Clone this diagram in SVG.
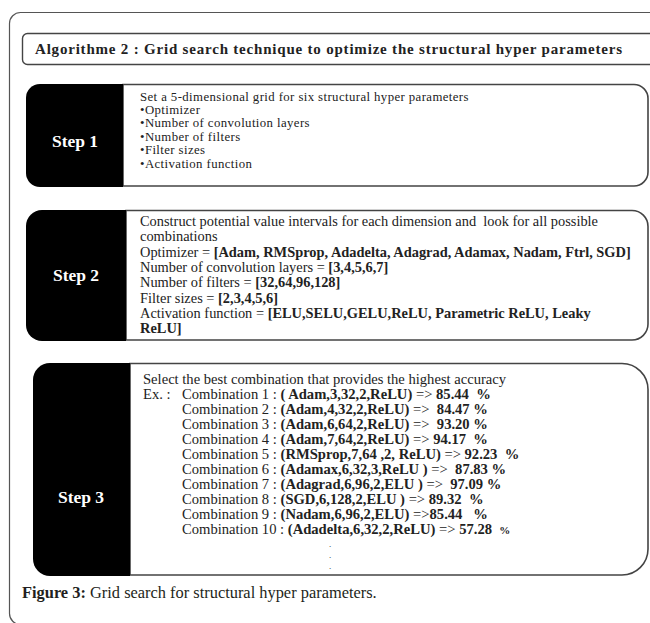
<svg xmlns="http://www.w3.org/2000/svg" width="650" height="623" viewBox="0 0 650 623">
<style>
.frame{fill:none;stroke:#555;stroke-width:1.2}
.box{fill:#fff;stroke:#444;stroke-width:1.6}
.blk{fill:#000}
.t{font-family:"Liberation Serif","Times New Roman",serif;fill:#222}
.b{font-weight:bold}
.lab{font-family:"Liberation Serif","Times New Roman",serif;font-weight:bold;fill:#fff;font-size:17.5px;text-anchor:middle}
.s1{font-size:12.8px;letter-spacing:0.4px}
.s2{font-size:14.4px}
.s3{font-size:14.6px}
.dot{font-size:9px}
.cap{font-family:"Liberation Serif","Times New Roman",serif;fill:#231f20;font-size:16.4px}
</style>
<rect class="frame" x="9.5" y="12.5" width="700" height="612" rx="11"/>
<g id="title">
<rect x="22.5" y="33.5" width="700" height="31" rx="5" fill="#fff" stroke="#444" stroke-width="1.4"/>
<text class="t b" x="35" y="53.5" font-size="15" textLength="587" lengthAdjust="spacing">Algorithme 2 : Grid search technique to optimize the structural hyper parameters</text>
</g>
<g id="step1">
<path class="box" d="M123,84.5 H634 A14,14 0 0 1 648,98.5 V172 A14,14 0 0 1 634,186 H123 Z"/>
<path class="blk" d="M40,84 H123 V187 H40 A14,14 0 0 1 26,173 V98 A14,14 0 0 1 40,84 Z"/>
<text class="lab" x="75" y="147">Step 1</text>
<g class="t s1">
<text x="140" y="100.5">Set a 5-dimensional grid for six structural hyper parameters</text>
<text x="140" y="113.9">•Optimizer</text>
<text x="140" y="127.3">•Number of convolution layers</text>
<text x="140" y="140.7">•Number of filters</text>
<text x="140" y="154.1">•Filter sizes</text>
<text x="140" y="167.5">•Activation function</text>
</g>
</g>
<g id="step2">
<path class="box" d="M126,210.5 H632 A16,16 0 0 1 648,226.5 V324 A16,16 0 0 1 632,340 H126 Z"/>
<path class="blk" d="M42,210 H126 V341 H42 A16,16 0 0 1 26,325 V226 A16,16 0 0 1 42,210 Z"/>
<text class="lab" x="76" y="281">Step 2</text>
<g class="t s2">
<text x="140" y="226" xml:space="preserve">Construct potential value intervals for each dimension and  look for all possible</text>
<text x="140" y="241">combinations</text>
<text x="140" y="256.5" xml:space="preserve">Optimizer = <tspan class="b">[Adam, RMSprop, Adadelta, Adagrad, Adamax, Nadam, Ftrl, SGD]</tspan></text>
<text x="140" y="272" xml:space="preserve">Number of convolution layers = <tspan class="b">[3,4,5,6,7]</tspan></text>
<text x="140" y="287" xml:space="preserve">Number of filters = <tspan class="b">[32,64,96,128]</tspan></text>
<text x="140" y="302.5" xml:space="preserve">Filter sizes = <tspan class="b">[2,3,4,5,6]</tspan></text>
<text x="140" y="318" xml:space="preserve">Activation function = <tspan class="b">[ELU,SELU,GELU,ReLU, Parametric ReLU, Leaky</tspan></text>
<text x="140" y="333" class="b">ReLU]</text>
</g>
</g>
<g id="step3">
<path class="box" d="M130,363.5 H622 A26,26 0 0 1 648,389.5 V549 A26,26 0 0 1 622,575 H130 Z"/>
<path class="blk" d="M50,363 H130 V576 H50 A17,17 0 0 1 33,559 V380 A17,17 0 0 1 50,363 Z"/>
<text class="lab" x="81" y="503">Step 3</text>
<g class="t s3">
<text x="143" y="384">Select the best combination that provides the highest accuracy</text>
<text x="143" y="398.5">Ex. :</text>
<text x="182" y="398.5" xml:space="preserve">Combination 1 : <tspan class="b">( Adam,3,32,2,ReLU)</tspan> =&gt; <tspan class="b">85.44  %</tspan></text>
<text x="182" y="413.5" xml:space="preserve">Combination 2 : <tspan class="b">(Adam,4,32,2,ReLU)</tspan> =&gt;  <tspan class="b">84.47 %</tspan></text>
<text x="182" y="428.5" xml:space="preserve">Combination 3 : <tspan class="b">(Adam,6,64,2,ReLU)</tspan> =&gt;  <tspan class="b">93.20 %</tspan></text>
<text x="182" y="443.5" xml:space="preserve">Combination 4 : <tspan class="b">(Adam,7,64,2,ReLU)</tspan> =&gt; <tspan class="b">94.17  %</tspan></text>
<text x="182" y="458.5" xml:space="preserve">Combination 5 : <tspan class="b">(RMSprop,7,64 ,2, ReLU)</tspan> =&gt; <tspan class="b">92.23  %</tspan></text>
<text x="182" y="473.5" xml:space="preserve">Combination 6 : <tspan class="b">(Adamax,6,32,3,ReLU )</tspan> =&gt;  <tspan class="b">87.83 %</tspan></text>
<text x="182" y="488.5" xml:space="preserve">Combination 7 : <tspan class="b">(Adagrad,6,96,2,ELU )</tspan> =&gt;  <tspan class="b">97.09 %</tspan></text>
<text x="182" y="503.5" xml:space="preserve">Combination 8 : <tspan class="b">(SGD,6,128,2,ELU )</tspan> =&gt; <tspan class="b">89.32  %</tspan></text>
<text x="182" y="518.5" xml:space="preserve">Combination 9 : <tspan class="b">(Nadam,6,96,2,ELU)</tspan> =&gt;<tspan class="b">85.44   %</tspan></text>
<text x="182" y="533.5" xml:space="preserve">Combination 10 : <tspan class="b">(Adadelta,6,32,2,ReLU)</tspan> =&gt; <tspan class="b">57.28  <tspan font-size="11">%</tspan></tspan></text>
<text class="dot" x="329" y="547">.</text>
<text class="dot" x="329" y="558">.</text>
<text class="dot" x="329" y="569">.</text>
</g>
</g>
<text class="cap" x="22" y="598"><tspan font-weight="bold">Figure 3:</tspan> Grid search for structural hyper parameters.</text>
</svg>
